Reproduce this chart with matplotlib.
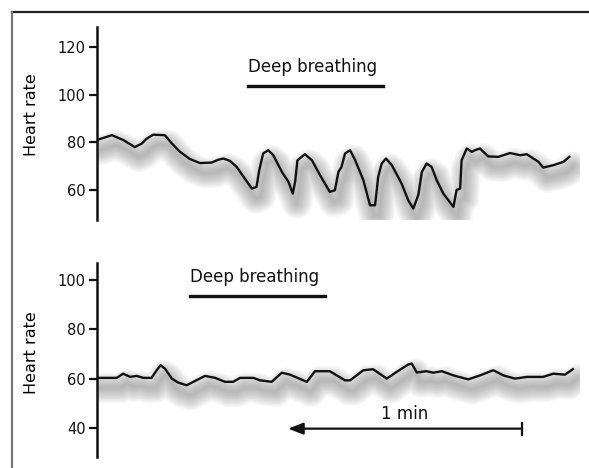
import numpy as np
import matplotlib.pyplot as plt
from matplotlib.lines import Line2D
from matplotlib.transforms import offset_copy

plt.rcParams['font.family'] = ['DejaVu Sans']

# Données (temps en secondes, fréquence cardiaque en bpm)
t_haut = [0, 3.8, 6.7, 9.7, 11.5, 12.7, 14.4, 17.4, 19.2, 21.3, 23.8, 26.4, 29.4,
          31.1, 32.4, 34.1, 35.8, 37.9, 39.7, 40.9, 41.6, 42.6, 43.9, 45.2, 47.4,
          49.1, 50.2, 50.8, 51.4, 53.3, 55.1, 57.2, 59.7, 61.0, 61.9, 62.7, 63.6,
          64.9, 66.2, 68.3, 70.0, 71.3, 72.1, 73.0, 74.1, 75.6, 78.1, 79.8, 81.1,
          82.4, 83.3, 84.5, 85.8, 87.1, 88.8, 91.4, 92.2, 93.1, 93.5, 94.8, 96.1,
          96.9, 98.2, 100.3, 102.9, 105.9, 108.5, 110.2, 113.2, 114.4, 117.0,
          119.6, 121.1]
fc_haut = [81, 83, 81, 78, 79.5, 81.5, 83.2, 83, 79.5, 76, 73, 71.3, 71.5,
           72.7, 73.2, 72.2, 69.7, 64.8, 60.6, 61.3, 68.3, 75.3, 76.7, 74.6, 67.6,
           63.4, 58.5, 63.4, 72.5, 75, 72.5, 66.2, 59.2, 59.9, 67.6, 69.7, 75.3,
           76.7, 72.5, 64.1, 53.6, 53.6, 65.5, 71.1, 73.2, 70.4, 62.7, 55.7, 52.2,
           58, 67.6, 71.1, 69.7, 64.1, 58.5, 52.9, 60, 60.6, 72.5, 77.4, 76,
           76.7, 77.4, 74.1, 73.9, 75.5, 74.6, 75, 71.8, 69.4, 70.4,
           71.8, 73.9]

t_bas = [0, 2.9, 5.05, 6.7, 8.5, 10.2, 11.9, 14.0, 15.3, 16.3, 17.4, 19.2, 20.8,
         23.0, 24.7, 27.7, 30.3, 32.8, 34.9, 36.7, 40.1, 41.8, 44.8, 47.4, 49.5,
         53.8, 55.9, 59.7, 63.6, 64.9, 68.3, 70.8, 74.3, 76.8, 79.8, 80.7, 82.0,
         84.5, 86.2, 88.4, 91.4, 95.2, 98.2, 101.6, 104.2, 107.2, 110.2, 114.4,
         117.0, 120.0, 122.0]
fc_bas = [60.3, 60.3, 60.3, 62, 60.7, 61.1, 60.3, 60.3, 63.4, 65.4, 64.1, 60, 58.4,
          57.3, 58.7, 61.1, 60.3, 58.7, 58.7, 60.3, 60.3, 59.3, 58.7, 62.4, 61.6,
          58.7, 63, 63, 59.3, 59.3, 63.4, 63.8, 60, 62.7, 65.7, 66.1, 62.5,
          63, 62.4, 63, 61.3, 59.7, 61.3, 63.4, 61.3, 60, 60.7, 60.7,
          62, 61.6, 63.8]

# Périodes de respiration profonde (s)
respi_haut = [38.7, 73.3]
respi_bas = [23.8, 58.5]

# Flèche "1 min"
fleche = [49.0, 109.0]

fig = plt.figure(figsize=(5.89, 4.68), dpi=100)

W, H = 589, 468
x0, x1 = 97, 580
ax1 = fig.add_axes([x0 / W, 1 - 220 / H, (x1 - x0) / W, 193 / H])
ax2 = fig.add_axes([x0 / W, 1 - 457 / H, (x1 - x0) / W, 194 / H])


def trace(ax, t, fc):
    # ombre floue sous la courbe (plusieurs passes pour adoucir)
    ombre = offset_copy(ax.transData, fig=fig, x=4, y=-10, units='dots')
    for lw in np.arange(22, 1, -2):
        ax.plot(t, fc, color='#6f6f6f', lw=lw, alpha=0.055, transform=ombre,
                solid_capstyle='round', solid_joinstyle='round')
    ax.plot(t, fc, color='#111111', lw=1.7, solid_joinstyle='round')


def style(ax, ylim, yticks, ylab_y):
    ax.set_xlim(0, (x1 - x0) / 3.9)
    ax.set_ylim(*ylim)
    ax.set_yticks(yticks)
    for s in ['top', 'right', 'bottom']:
        ax.spines[s].set_visible(False)
    ax.spines['left'].set_linewidth(1.8)
    ax.spines['left'].set_color('#111111')
    ax.set_xticks([])
    ax.tick_params(axis='y', length=6, width=1.6, labelsize=10.5, pad=2,
                   color='#111111', labelcolor='#111111')
    ax.set_ylabel('Heart rate', fontsize=11.5)
    ax.yaxis.set_label_coords(-0.121, ylab_y)
    ax.patch.set_alpha(0)


trace(ax1, t_haut, fc_haut)
style(ax1, (47.4, 128.4), [60, 80, 100, 120], 0.544)
ax1.plot(respi_haut, [103.8, 103.8], color='#111111', lw=2.4)
ax1.text(respi_haut[0], 109.7, 'Deep breathing', fontsize=12, ha='left',
         va='baseline', color='#111111')

trace(ax2, t_bas, fc_bas)
style(ax2, (28.2, 106.9), [40, 60, 80, 100], 0.536)
ax2.plot(respi_bas, [93.7, 93.7], color='#111111', lw=2.4)
ax2.text(respi_bas[0], 99.3, 'Deep breathing', fontsize=12, ha='left',
         va='baseline', color='#111111')

ax2.annotate('', xy=(fleche[0], 39.7), xytext=(fleche[1], 39.7),
             arrowprops=dict(arrowstyle='-|>,head_length=0.9,head_width=0.35',
                             color='#111111', lw=1.6, shrinkA=0, shrinkB=0))
ax2.plot([fleche[1]], [39.7], marker='|', markersize=10, mew=1.6, color='#111111')
ax2.text(np.mean(fleche), 43.7, '1 min', fontsize=12, ha='center', va='baseline',
         color='#111111')

# cadre autour de la figure
fig.add_artist(Line2D([12 / W, 1], [1 - 12 / H, 1 - 12 / H], color='#222222', lw=1.6))
fig.add_artist(Line2D([12 / W, 12 / W], [0, 1 - 12 / H], color='#777777', lw=1.6))

plt.savefig('out.png', dpi=100)
